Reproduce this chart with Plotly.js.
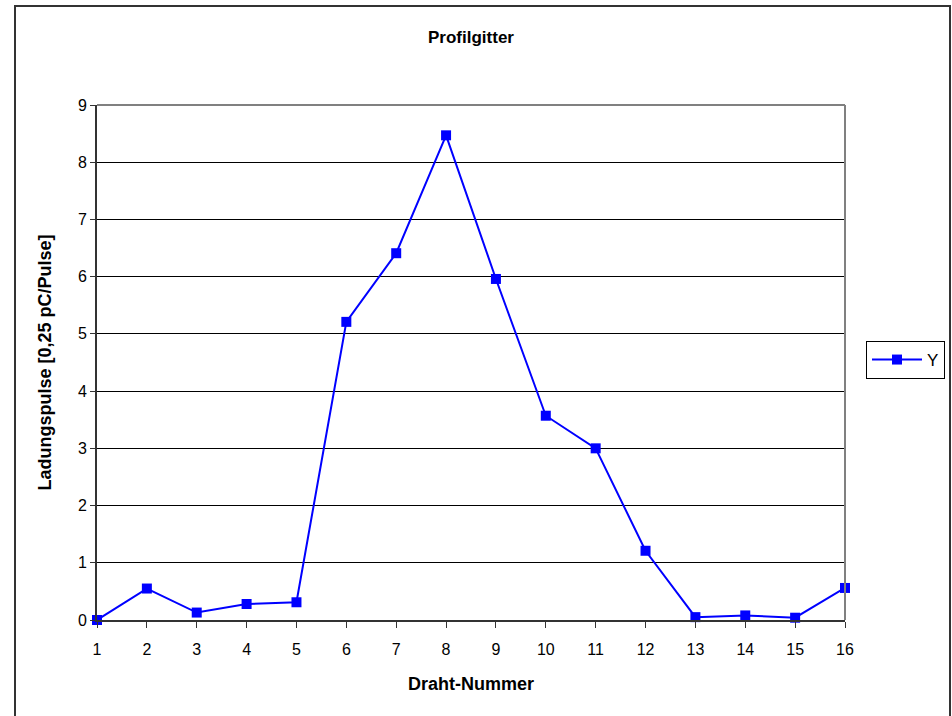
<!DOCTYPE html>
<html>
<head>
<meta charset="utf-8">
<script src="https://cdn.plot.ly/plotly-3.0.1.min.js"></script>
<style>html,body{margin:0;padding:0;background:#fff;}#chart{width:952px;height:716px;}</style>
</head>
<body>
<div id="chart"></div>
<script>
const drahtNummer = [1,2,3,4,5,6,7,8,9,10,11,12,13,14,15,16];
const ladungspulse = [0.0,0.55,0.13,0.28,0.31,5.21,6.41,8.47,5.96,3.57,3.0,1.21,0.05,0.08,0.04,0.56];
const xTickLabels = ["1","2","3","4","5","6","7","8","9","10","11","12","13","14","15","16"];
const seriesName = "Y";

const trace = {
  x: drahtNummer,
  y: ladungspulse,
  type: 'scatter',
  mode: 'lines+markers',
  name: seriesName,
  line: {color: '#0000FF', width: 2},
  marker: {symbol: 'square', size: 10, color: '#0000FF'},
  cliponaxis: false
};

const L = 97, R = 845, T = 105, B = 620, W = 952, H = 716;
const pw = R - L, ph = B - T;
const px = v => (v - L) / pw;
const py = v => (B - v) / ph;

const layout = {
  width: W, height: H,
  margin: {l: L, r: W - R, t: T, b: H - B, pad: 0, autoexpand: false},
  paper_bgcolor: '#fff', plot_bgcolor: '#fff',
  font: {family: 'Arial, "Liberation Sans", sans-serif', size: 16, color: '#000'},
  title: {text: '<b>Profilgitter</b>', font: {size: 17}, x: 0.5, xref: 'paper', y: 1 - 37/H, yanchor: 'middle'},
  xaxis: {
    range: [1, 16], tickmode: 'array', tickvals: drahtNummer, ticktext: xTickLabels,
    ticks: 'outside', ticklen: 6, tickcolor: '#333', tickwidth: 1,
    ticklabelstandoff: 8,
    showline: true, linecolor: '#333', linewidth: 2,
    showgrid: false, zeroline: false,
    title: {text: '<b>Draht-Nummer</b>', font: {size: 18}, standoff: 20},
    tickfont: {size: 16}
  },
  yaxis: {
    range: [0, 9], dtick: 1, tick0: 0,
    ticks: 'outside', ticklen: 5, tickcolor: '#333', tickwidth: 1,
    ticklabelstandoff: 0,
    showline: true, linecolor: '#333', linewidth: 2,
    showgrid: true, gridcolor: '#000', gridwidth: 1,
    zeroline: false,
    title: {text: '<b>Ladungspulse [0,25 pC/Pulse]</b>', font: {size: 18}, standoff: 22},
    tickfont: {size: 16}
  },
  showlegend: true,
  legend: {
    x: px(866), y: py(360), xanchor: 'left', yanchor: 'middle',
    bordercolor: '#000', borderwidth: 1, bgcolor: '#fff',
    font: {size: 17}, itemwidth: 50
  },
  shapes: [
    {type: 'line', xref: 'paper', yref: 'paper', x0: 0, x1: 1, y0: 1, y1: 1, line: {color: '#808080', width: 2}, layer: 'above'},
    {type: 'line', xref: 'paper', yref: 'paper', x0: 1, x1: 1, y0: 0, y1: 1, line: {color: '#808080', width: 2}, layer: 'above'},
    {type: 'rect', xref: 'paper', yref: 'paper', x0: px(15), x1: px(950), y0: py(6), y1: py(730), line: {color: '#333', width: 2}, fillcolor: 'rgba(0,0,0,0)', layer: 'above'}
  ]
};

Plotly.newPlot('chart', [trace], layout, {displayModeBar: false, staticPlot: true});
</script>
</body>
</html>
